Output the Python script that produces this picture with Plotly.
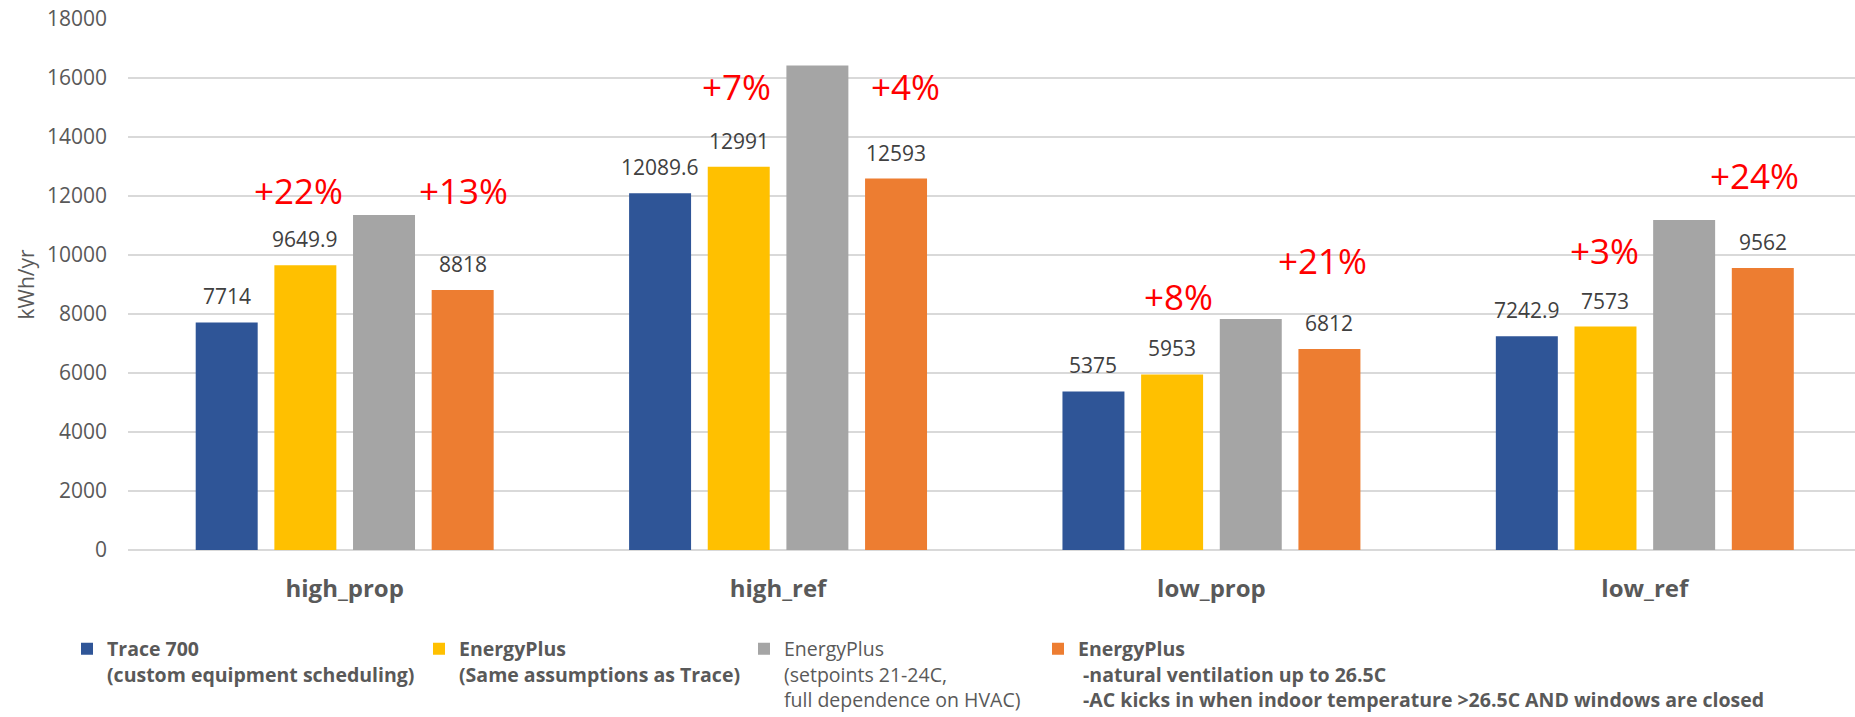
import plotly.graph_objects as go

# Annual energy use per case (kWh/yr)
categories = ["high_prop", "high_ref", "low_prop", "low_ref"]
trace700 = [7714, 12089.6, 5375, 7242.9]
eplus_same = [9649.9, 12991, 5953, 7573]
eplus_setpoints = [11360, 16420, 7830, 11190]
eplus_natvent = [8818, 12593, 6812, 9562]

series = [trace700, eplus_same, eplus_setpoints, eplus_natvent]
series_names = [
    "<b>Trace 700<br>(custom equipment scheduling)</b>",
    "<b>EnergyPlus<br>(Same assumptions as Trace)</b>",
    "EnergyPlus<br>(setpoints 21-24C,<br>full dependence on HVAC)",
    "<b>EnergyPlus<br>&nbsp;-natural ventilation up to 26.5C<br>"
    "&nbsp;-AC kicks in when indoor temperature &gt;26.5C AND windows are closed</b>",
]
colors = ["#2F5597", "#FFC000", "#A5A5A5", "#ED7D31"]
show_values = [True, True, False, True]

# Relative differences written above the bars
pct_labels = ["+22%", "+13%", "+7%", "+4%", "+8%", "+21%", "+3%", "+24%"]
pct_x = [-0.107, 0.273, 0.905, 1.295, 1.923, 2.257, 2.908, 3.252]
pct_y = [12200, 12200, 15700, 15700, 8610, 9830, 10140, 12680]

y_ticks = list(range(0, 18001, 2000))

BASE_FONT = "Open Sans, Noto Sans, sans-serif"
TEXT_GREY = "#595959"

BARGAP = 0.274
BARGROUPGAP = 0.212

fig = go.Figure()
legend_ids = ["legend", "legend2", "legend3", "legend4"]
for i, (vals, name, col) in enumerate(zip(series, series_names, colors)):
    fig.add_trace(go.Bar(
        x=categories, y=vals, name=name,
        marker=dict(color=col, line=dict(width=0)),
        legend=legend_ids[i],
        hoverinfo="x+y",
    ))

# Value labels above the bars, placed in the centre of each grouped bar
n = len(series)
slot = (1 - BARGAP) / n
annotations = []
for i, vals in enumerate(series):
    if not show_values[i]:
        continue
    off = (i - (n - 1) / 2) * slot
    for ci, v in enumerate(vals):
        annotations.append(dict(
            x=ci + off, y=v, xref="x", yref="y",
            text=f"{v:g}", showarrow=False,
            xanchor="center", yanchor="bottom", yshift=10,
            font=dict(family=BASE_FONT, size=21, color="#404040"),
        ))

for t, px, py in zip(pct_labels, pct_x, pct_y):
    annotations.append(dict(
        x=px, y=py, xref="x", yref="y", text=t, showarrow=False,
        xanchor="center", yanchor="middle",
        font=dict(family=BASE_FONT, size=35, color="#FF0000"),
    ))

legend_x_px = [107, 459, 784, 1078]
plot_left, plot_w, plot_h = 128, 1727, 531
legend_common = dict(
    orientation="v", xanchor="left", yanchor="top", y=-0.15,
    bgcolor="rgba(0,0,0,0)", valign="top", tracegroupgap=0,
    itemclick=False, itemdoubleclick=False,
)
legend_layout = {}
for i, lid in enumerate(legend_ids):
    legend_layout[lid] = dict(
        legend_common,
        x=(legend_x_px[i] - 40 - plot_left) / plot_w,
        font=dict(family=BASE_FONT, size=19.5, color=TEXT_GREY),
    )

fig.update_layout(
    width=1855, height=717,
    margin=dict(l=plot_left, r=0, t=19, b=167, autoexpand=False),
    paper_bgcolor="white", plot_bgcolor="white",
    barmode="group", bargap=BARGAP, bargroupgap=BARGROUPGAP,
    showlegend=True,
    annotations=annotations,
    xaxis=dict(
        type="category", range=[-0.5, 3.485],
        showgrid=False, showline=False, ticks="",
        tickfont=dict(family=BASE_FONT, size=24, color=TEXT_GREY, weight="bold"),
        ticklabelstandoff=22,
    ),
    yaxis=dict(
        range=[0, 18000.5], tickvals=y_ticks, tickformat="d",
        showgrid=True, gridcolor="#D9D9D9", gridwidth=1.5,
        zeroline=True, zerolinecolor="#D9D9D9", zerolinewidth=1.5,
        showline=False, ticks="",
        tickfont=dict(family=BASE_FONT, size=21, color=TEXT_GREY),
        ticklabelstandoff=20,
        title=dict(text="kWh/yr", standoff=6,
                   font=dict(family=BASE_FONT, size=21, color=TEXT_GREY)),
    ),
    **legend_layout,
)

fig.write_html("out.html")
